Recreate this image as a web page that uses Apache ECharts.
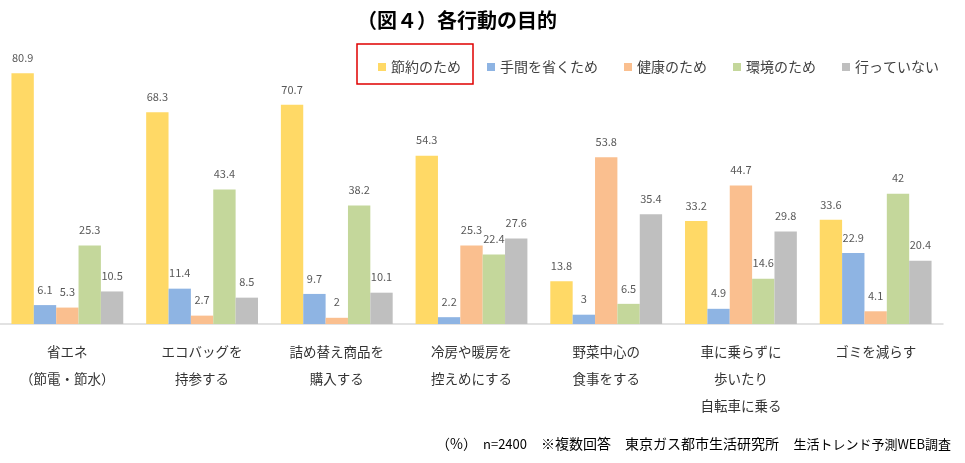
<!DOCTYPE html>
<html><head><meta charset="utf-8">
<script src="https://cdn.jsdelivr.net/npm/echarts@6/dist/echarts.min.js"></script>
<style>html,body{margin:0;padding:0;background:#fff}#c{width:965px;height:463px}</style>
</head><body><div id="c"></div>
<script>
const categories = ['省エネ\n（節電・節水）','エコバッグを\n持参する','詰め替え商品を\n購入する','冷房や暖房を\n控えめにする','野菜中心の\n食事をする','車に乗らずに\n歩いたり\n自転車に乗る','ゴミを減らす'];
const seriesNames = ['節約のため','手間を省くため','健康のため','環境のため','行っていない'];
const setsuyaku = [80.9, 68.3, 70.7, 54.3, 13.8, 33.2, 33.6];
const tema = [6.1, 11.4, 9.7, 2.2, 3, 4.9, 22.9];
const kenko = [5.3, 2.7, 2, 25.3, 53.8, 44.7, 4.1];
const kankyo = [25.3, 43.4, 38.2, 22.4, 6.5, 14.6, 42];
const itteinai = [10.5, 8.5, 10.1, 27.6, 35.4, 29.8, 20.4];
const footParts = ['（%）','n=2400','※複数回答','東京ガス都市生活研究所','生活トレンド予測WEB調査'];
const colors = ['#FFD966','#8EB4E3','#FABF8F','#C4D79B','#BFBFBF'];
const allData = [setsuyaku, tema, kenko, kankyo, itteinai];
const FONT = '"Noto Sans CJK JP", sans-serif';
const chart = echarts.init(document.getElementById('c'), null, {renderer:'canvas'});
chart.setOption({
  animation:false,
  textStyle:{fontFamily:FONT},
  title:{text:'（図４）各行動の目的', left:352, top:5, textStyle:{fontSize:20, fontWeight:'bold', color:'#000', fontFamily:FONT}},
  legend:{left:373, top:55, itemWidth:8, itemHeight:8, itemGap:26, icon:'rect',
    textStyle:{fontSize:14, color:'#404040', fontFamily:FONT},
    data:seriesNames},
  graphic:[
    {type:'rect', shape:{x:357, y:44, width:116, height:40}, style:{fill:'none', stroke:'#E00000', lineWidth:1.5}},
    {type:'text', left:436, top:437, style:{text:footParts[0], font:'14px '+FONT, fill:'#000'}},
    {type:'text', left:483, top:438, style:{text:footParts[1], font:'13px '+FONT, fill:'#000'}},
    {type:'text', left:541, top:437, style:{text:footParts[2], font:'14px '+FONT, fill:'#000'}},
    {type:'text', left:625, top:437, style:{text:footParts[3], font:'14px '+FONT, fill:'#000'}},
    {type:'text', right:14, top:438, style:{text:footParts[4], font:'13px '+FONT, fill:'#000'}}
  ],
  grid:{left:0, right:22, top:14, bottom:139},
  xAxis:{type:'category', data:categories,
    axisLine:{lineStyle:{color:'#D9D9D9', width:1.5}}, axisTick:{show:false},
    axisLabel:{fontSize:13.5, color:'#333', lineHeight:27, margin:14, interval:0, fontFamily:FONT}},
  yAxis:{type:'value', min:0, max:100, show:false, splitLine:{show:false}},
  series: seriesNames.map((n,i)=>({
    name:n, type:'bar', data:allData[i], barGap:'0%', barCategoryGap:'17%',
    itemStyle:{color:colors[i]},
    label:{show:true, position:'top', fontSize:11, color:'#595959', distance:10, fontFamily:FONT}
  }))
});
</script></body></html>
